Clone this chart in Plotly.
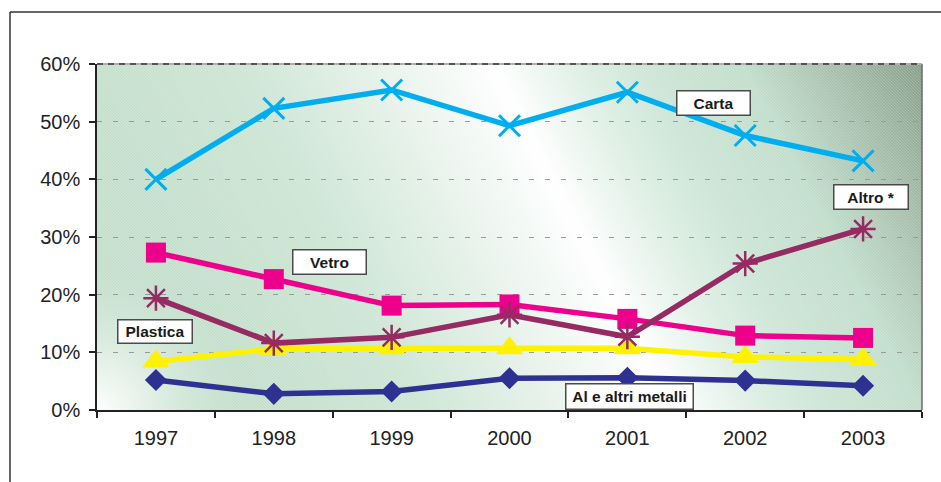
import base64
import struct
import zlib

import numpy as np
import plotly.graph_objects as go

# ---- data (% share by material) ----
years = ["1997", "1998", "1999", "2000", "2001", "2002", "2003"]
carta = [40.0, 52.3, 55.5, 49.3, 55.1, 47.6, 43.2]
vetro = [27.3, 22.7, 18.1, 18.3, 15.8, 12.9, 12.5]
altro = [19.4, 11.6, 12.6, 16.5, 12.7, 25.4, 31.4]
plastica = [8.4, 10.6, 10.7, 10.7, 10.7, 9.2, 8.8]
metalli = [5.2, 2.8, 3.2, 5.5, 5.6, 5.1, 4.2]
y_ticks = [0, 10, 20, 30, 40, 50, 60]
y_tick_text = [f"{v}%" for v in y_ticks]

W, H = 941, 482
ML, MR, MT, MB = 97, 19, 64, 72
PW, PH = W - ML - MR, H - MT - MB


# ---- plot-area background: diagonal green/white gradient with fine hatching ----
def gradient_png(w, h):
    X, Y = np.meshgrid(np.arange(w, dtype=float), np.arange(h, dtype=float))
    d = X - (395 + 0.52 * Y)  # horizontal distance from the light band
    stops = [-700, -400, -250, -120, 0, 80, 150, 250, 330, 440]
    cols = np.array([
        (195, 223, 204), (197, 224, 205), (206, 230, 213), (230, 242, 234),
        (255, 255, 255), (224, 240, 230), (205, 230, 215), (194, 222, 204),
        (170, 195, 176), (134, 156, 136)], dtype=float)
    img = np.stack([np.interp(d, stops, cols[:, k]) for k in range(3)], axis=-1)
    # soft light corner at the bottom left
    r = np.hypot(X, h - Y)
    glow = np.clip(1 - r / 140.0, 0, 1) ** 1.5
    img = img + (255 - img) * glow[..., None]
    # fine diagonal hatching
    hatch = ((X - Y) % 3 == 0).astype(float) * 0.18
    img = img + (255 - img) * hatch[..., None]
    arr = np.clip(img, 0, 255).astype(np.uint8)
    raw = b"".join(b"\x00" + arr[i].tobytes() for i in range(h))

    def chunk(tag, data):
        c = struct.pack(">I", len(data)) + tag + data
        return c + struct.pack(">I", zlib.crc32(tag + data) & 0xFFFFFFFF)

    png = (b"\x89PNG\r\n\x1a\n"
           + chunk(b"IHDR", struct.pack(">IIBBBBB", w, h, 8, 2, 0, 0, 0))
           + chunk(b"IDAT", zlib.compress(raw, 9))
           + chunk(b"IEND", b""))
    return "data:image/png;base64," + base64.b64encode(png).decode()


fig = go.Figure()

series = [
    ("Al e altri metalli", metalli, "#2E3192",
     dict(symbol="diamond", size=17, color="#2E3192")),
    ("Plastica", plastica, "#FFF200",
     dict(symbol="triangle-up", size=24, color="#FFF200")),
    ("Vetro", vetro, "#EC008C",
     dict(symbol="square", size=20, color="#EC008C")),
    ("Altro *", altro, "#952B62",
     dict(symbol="asterisk-open", size=21, color="#952B62",
          line=dict(width=2.5, color="#952B62"))),
    ("Carta", carta, "#00AEEF",
     dict(symbol="x-thin-open", size=21, color="#00AEEF",
          line=dict(width=3, color="#00AEEF"))),
]
for name, vals, col, mk in series:
    fig.add_trace(go.Scatter(
        x=years, y=vals, mode="lines+markers", name=name,
        line=dict(color=col, width=5.5), marker=mk, showlegend=False))


def px(x):
    return (x - ML) / PW


def py(y):
    return (H - MB - y) / PH


# boxed series labels
labels = [
    ("Carta", 713, 103, 72, 23),
    ("Vetro", 329, 262, 72, 23),
    ("Altro *", 871, 197, 73, 23),
    ("Plastica", 155, 331, 73, 22),
    ("Al e altri metalli", 629, 396, 126, 24),
]
for text, cx, cy, bw, bh in labels:
    fig.add_annotation(
        x=px(cx), y=py(cy), xref="paper", yref="paper", text=f"<b>{text}</b>",
        showarrow=False, xanchor="center", yanchor="middle",
        width=bw, height=bh, borderpad=0, bgcolor="white",
        bordercolor="#4a4a4a", borderwidth=1.5,
        font=dict(family="Arial", size=15.5, color="#1a1a1a"))

shapes = [
    # outer frame (top and left edges)
    dict(type="line", xref="paper", yref="paper", x0=px(10), x1=px(945),
         y0=py(12), y1=py(12), line=dict(color="#333333", width=1.5)),
    dict(type="line", xref="paper", yref="paper", x0=px(10), x1=px(10),
         y0=py(12), y1=py(490), line=dict(color="#333333", width=1.5)),
    # plot-area top and right borders
    dict(type="line", xref="paper", yref="paper", x0=0, x1=1, y0=1, y1=1,
         line=dict(color="#b0b0b0", width=2)),
    dict(type="line", xref="paper", yref="paper", x0=0, x1=1, y0=1, y1=1,
         line=dict(color="#555555", width=2, dash="6px,5px")),
    dict(type="line", xref="paper", yref="paper", x0=1, x1=1, y0=0, y1=1,
         line=dict(color="#6a6a6a", width=1.5)),
]

fig.update_layout(
    width=W, height=H, autosize=False,
    margin=dict(l=ML, r=MR, t=MT, b=MB, pad=0),
    paper_bgcolor="white", plot_bgcolor="rgba(0,0,0,0)",
    font=dict(family="Arial", color="#222222"),
    shapes=shapes,
    images=[dict(source=gradient_png(PW, PH), xref="paper", yref="paper",
                 x=0, y=1, sizex=1, sizey=1, xanchor="left", yanchor="top",
                 sizing="stretch", layer="below")],
)
fig.update_xaxes(
    type="category", range=[-0.5, 6.5], tickson="boundaries",
    ticks="outside", ticklen=6, tickwidth=1.5, tickcolor="#222222",
    showline=True, linecolor="#222222", linewidth=1.5, showgrid=False,
    tickfont=dict(family="Arial", size=20, color="#222222"),
    ticklabelstandoff=9)
fig.update_yaxes(
    range=[0, 60], tickmode="array", tickvals=y_ticks, ticktext=y_tick_text,
    ticks="outside", ticklen=6, tickwidth=1.5, tickcolor="#222222",
    showline=True, linecolor="#222222", linewidth=1.5,
    showgrid=True, gridcolor="#9a9a9a", gridwidth=1, griddash="5px,11px",
    zeroline=False,
    tickfont=dict(family="Arial", size=20, color="#222222"),
    ticklabelstandoff=5)

fig.write_html("out.html")
